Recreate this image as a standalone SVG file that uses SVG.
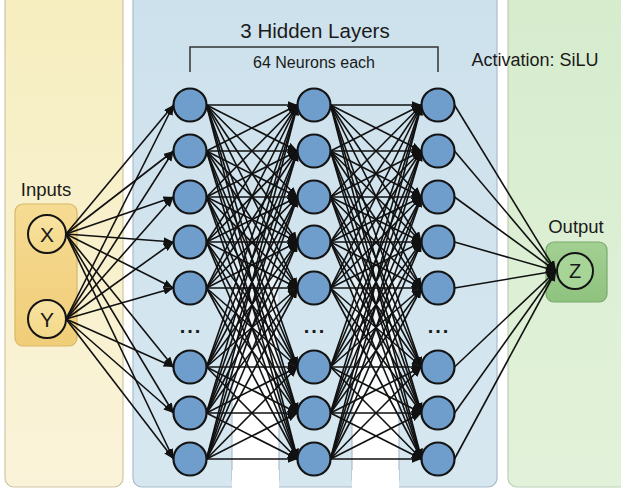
<svg xmlns="http://www.w3.org/2000/svg" width="621" height="493" viewBox="0 0 621 493">
<defs>
<style>
text{font-family:"Liberation Sans","Noto Sans",Arial,sans-serif;fill:#1a1a1a;text-anchor:middle}
.node{fill:#6f9ecd;stroke:#141414;stroke-width:2.2}
.c path{fill:none;stroke:#111;stroke-width:1.6;marker-end:url(#ah)}
.dots{font-size:20px;font-weight:bold;letter-spacing:2px}
.io{fill:url(#ioc);stroke:#141414;stroke-width:2}
</style>
<marker id="ah" viewBox="0 0 10 8" refX="10" refY="4" markerWidth="10" markerHeight="8" markerUnits="userSpaceOnUse" orient="auto"><path d="M0,0 L10,4 L0,8 z" fill="#111"/></marker>
<linearGradient id="yel" x1="0" y1="0" x2="0" y2="1"><stop offset="0" stop-color="#f6eebf"/><stop offset="1" stop-color="#faf3d9"/></linearGradient>
<linearGradient id="blu" x1="0" y1="0" x2="0" y2="1"><stop offset="0" stop-color="#cde1ec"/><stop offset="1" stop-color="#d6e7f0"/></linearGradient>
<linearGradient id="grn" x1="0" y1="0" x2="0" y2="1"><stop offset="0" stop-color="#d6eccd"/><stop offset="1" stop-color="#e2f2da"/></linearGradient>
<linearGradient id="gap" x1="0" y1="0" x2="0" y2="1"><stop offset="0" stop-color="#fff" stop-opacity="0"/><stop offset="0.4" stop-color="#fff" stop-opacity="0.65"/><stop offset="0.7" stop-color="#fff" stop-opacity="1"/><stop offset="1" stop-color="#fff" stop-opacity="1"/></linearGradient>
<linearGradient id="edge" x1="0" y1="0" x2="0" y2="1"><stop offset="0" stop-color="#a9bccb" stop-opacity="0"/><stop offset="0.5" stop-color="#a9bccb" stop-opacity="0.8"/><stop offset="1" stop-color="#a9bccb" stop-opacity="1"/></linearGradient>
<linearGradient id="inbox" x1="0" y1="0" x2="0" y2="1"><stop offset="0" stop-color="#f6db93"/><stop offset="1" stop-color="#f0cd78"/></linearGradient>
<linearGradient id="ioc" x1="0" y1="0" x2="0" y2="1"><stop offset="0" stop-color="#f8e3a4"/><stop offset="1" stop-color="#f3d886"/></linearGradient>
<linearGradient id="outbox" x1="0" y1="0" x2="0" y2="1"><stop offset="0" stop-color="#a2d093"/><stop offset="1" stop-color="#8fc27f"/></linearGradient>
</defs>

<g id="inputs-panel">
<rect x="5" y="-8" width="118" height="495" rx="9" fill="url(#yel)" stroke="#cfc7a6" stroke-width="1.2"/>
<text x="46" y="196" font-size="18.5">Inputs</text>
<rect x="15" y="204" width="62" height="142" rx="8" fill="url(#inbox)" stroke="#d6b869" stroke-width="1.2"/>
</g>

<g id="hidden-panel">
<rect x="133" y="-8" width="364" height="495" rx="9" fill="url(#blu)" stroke="#a9bccb" stroke-width="1.2"/>
<rect x="232" y="200" width="47" height="293" fill="url(#gap)"/>
<rect x="352" y="200" width="47" height="293" fill="url(#gap)"/>
<rect x="232" y="200" width="47" height="287" rx="8" fill="none" stroke="url(#edge)" stroke-width="1.2"/>
<rect x="352" y="200" width="47" height="287" rx="8" fill="none" stroke="url(#edge)" stroke-width="1.2"/>
<rect x="232" y="470" width="47" height="23" fill="#fff"/>
<rect x="352" y="470" width="47" height="23" fill="#fff"/>
<text x="315" y="38" font-size="20.5">3 Hidden Layers</text>
<path d="M190 72 V47 H438 V72" fill="none" stroke="#333" stroke-width="1.5"/>
<text x="314" y="68" font-size="16">64 Neurons each</text>
</g>

<g id="output-panel">
<rect x="508" y="-8" width="125" height="495" rx="9" fill="url(#grn)" stroke="#bccfb4" stroke-width="1.2"/>
<text x="535" y="66" font-size="18">Activation: SiLU</text>
<text x="576" y="233" font-size="18.5">Output</text>
<rect x="546" y="242" width="61" height="60" rx="8" fill="url(#outbox)" stroke="#7aa96e" stroke-width="1.2"/>
</g>

<g id="connectors" class="c">
<path d="M66 234 173.5 105"/><path d="M66 234 173.5 151"/><path d="M66 234 173.5 197"/><path d="M66 234 173.5 242"/><path d="M66 234 173.5 288"/><path d="M66 234 173.5 367"/><path d="M66 234 173.5 413"/><path d="M66 234 173.5 459"/>
<path d="M66 319 173.5 105"/><path d="M66 319 173.5 151"/><path d="M66 319 173.5 197"/><path d="M66 319 173.5 242"/><path d="M66 319 173.5 288"/><path d="M66 319 173.5 367"/><path d="M66 319 173.5 413"/><path d="M66 319 173.5 459"/>

<path d="M206.5 105 297.5 105"/><path d="M206.5 105 297.5 151"/><path d="M206.5 105 297.5 197"/><path d="M206.5 105 297.5 242"/><path d="M206.5 105 297.5 288"/><path d="M206.5 105 297.5 367"/><path d="M206.5 105 297.5 413"/><path d="M206.5 105 297.5 459"/>
<path d="M206.5 151 297.5 105"/><path d="M206.5 151 297.5 151"/><path d="M206.5 151 297.5 197"/><path d="M206.5 151 297.5 242"/><path d="M206.5 151 297.5 288"/><path d="M206.5 151 297.5 367"/><path d="M206.5 151 297.5 413"/><path d="M206.5 151 297.5 459"/>
<path d="M206.5 197 297.5 105"/><path d="M206.5 197 297.5 151"/><path d="M206.5 197 297.5 197"/><path d="M206.5 197 297.5 242"/><path d="M206.5 197 297.5 288"/><path d="M206.5 197 297.5 367"/><path d="M206.5 197 297.5 413"/><path d="M206.5 197 297.5 459"/>
<path d="M206.5 242 297.5 105"/><path d="M206.5 242 297.5 151"/><path d="M206.5 242 297.5 197"/><path d="M206.5 242 297.5 242"/><path d="M206.5 242 297.5 288"/><path d="M206.5 242 297.5 367"/><path d="M206.5 242 297.5 413"/><path d="M206.5 242 297.5 459"/>
<path d="M206.5 288 297.5 105"/><path d="M206.5 288 297.5 151"/><path d="M206.5 288 297.5 197"/><path d="M206.5 288 297.5 242"/><path d="M206.5 288 297.5 288"/><path d="M206.5 288 297.5 367"/><path d="M206.5 288 297.5 413"/><path d="M206.5 288 297.5 459"/>
<path d="M206.5 367 297.5 105"/><path d="M206.5 367 297.5 151"/><path d="M206.5 367 297.5 197"/><path d="M206.5 367 297.5 242"/><path d="M206.5 367 297.5 288"/><path d="M206.5 367 297.5 367"/><path d="M206.5 367 297.5 413"/><path d="M206.5 367 297.5 459"/>
<path d="M206.5 413 297.5 105"/><path d="M206.5 413 297.5 151"/><path d="M206.5 413 297.5 197"/><path d="M206.5 413 297.5 242"/><path d="M206.5 413 297.5 288"/><path d="M206.5 413 297.5 367"/><path d="M206.5 413 297.5 413"/><path d="M206.5 413 297.5 459"/>
<path d="M206.5 459 297.5 105"/><path d="M206.5 459 297.5 151"/><path d="M206.5 459 297.5 197"/><path d="M206.5 459 297.5 242"/><path d="M206.5 459 297.5 288"/><path d="M206.5 459 297.5 367"/><path d="M206.5 459 297.5 413"/><path d="M206.5 459 297.5 459"/>

<path d="M330.5 105 421.5 105"/><path d="M330.5 105 421.5 151"/><path d="M330.5 105 421.5 197"/><path d="M330.5 105 421.5 242"/><path d="M330.5 105 421.5 288"/><path d="M330.5 105 421.5 367"/><path d="M330.5 105 421.5 413"/><path d="M330.5 105 421.5 459"/>
<path d="M330.5 151 421.5 105"/><path d="M330.5 151 421.5 151"/><path d="M330.5 151 421.5 197"/><path d="M330.5 151 421.5 242"/><path d="M330.5 151 421.5 288"/><path d="M330.5 151 421.5 367"/><path d="M330.5 151 421.5 413"/><path d="M330.5 151 421.5 459"/>
<path d="M330.5 197 421.5 105"/><path d="M330.5 197 421.5 151"/><path d="M330.5 197 421.5 197"/><path d="M330.5 197 421.5 242"/><path d="M330.5 197 421.5 288"/><path d="M330.5 197 421.5 367"/><path d="M330.5 197 421.5 413"/><path d="M330.5 197 421.5 459"/>
<path d="M330.5 242 421.5 105"/><path d="M330.5 242 421.5 151"/><path d="M330.5 242 421.5 197"/><path d="M330.5 242 421.5 242"/><path d="M330.5 242 421.5 288"/><path d="M330.5 242 421.5 367"/><path d="M330.5 242 421.5 413"/><path d="M330.5 242 421.5 459"/>
<path d="M330.5 288 421.5 105"/><path d="M330.5 288 421.5 151"/><path d="M330.5 288 421.5 197"/><path d="M330.5 288 421.5 242"/><path d="M330.5 288 421.5 288"/><path d="M330.5 288 421.5 367"/><path d="M330.5 288 421.5 413"/><path d="M330.5 288 421.5 459"/>
<path d="M330.5 367 421.5 105"/><path d="M330.5 367 421.5 151"/><path d="M330.5 367 421.5 197"/><path d="M330.5 367 421.5 242"/><path d="M330.5 367 421.5 288"/><path d="M330.5 367 421.5 367"/><path d="M330.5 367 421.5 413"/><path d="M330.5 367 421.5 459"/>
<path d="M330.5 413 421.5 105"/><path d="M330.5 413 421.5 151"/><path d="M330.5 413 421.5 197"/><path d="M330.5 413 421.5 242"/><path d="M330.5 413 421.5 288"/><path d="M330.5 413 421.5 367"/><path d="M330.5 413 421.5 413"/><path d="M330.5 413 421.5 459"/>
<path d="M330.5 459 421.5 105"/><path d="M330.5 459 421.5 151"/><path d="M330.5 459 421.5 197"/><path d="M330.5 459 421.5 242"/><path d="M330.5 459 421.5 288"/><path d="M330.5 459 421.5 367"/><path d="M330.5 459 421.5 413"/><path d="M330.5 459 421.5 459"/>

<path d="M454.5 105 556 271"/><path d="M454.5 151 556 271"/><path d="M454.5 197 556 271"/><path d="M454.5 242 556 271"/><path d="M454.5 288 556 271"/><path d="M454.5 367 556 271"/><path d="M454.5 413 556 271"/><path d="M454.5 459 556 271"/>
</g>

<g id="in-x"><circle class="io" cx="47" cy="234" r="19"/><text x="47" y="241.5" font-size="21">X</text></g>
<g id="in-y"><circle class="io" cx="47" cy="319" r="19"/><text x="47" y="326.5" font-size="21">Y</text></g>

<g id="h1-1"><circle class="node" cx="190" cy="105" r="16.5"/></g>
<g id="h1-2"><circle class="node" cx="190" cy="151" r="16.5"/></g>
<g id="h1-3"><circle class="node" cx="190" cy="197" r="16.5"/></g>
<g id="h1-4"><circle class="node" cx="190" cy="242" r="16.5"/></g>
<g id="h1-5"><circle class="node" cx="190" cy="288" r="16.5"/></g>
<g id="h1-dots"><text class="dots" x="191" y="333">...</text></g>
<g id="h1-6"><circle class="node" cx="190" cy="367" r="16.5"/></g>
<g id="h1-7"><circle class="node" cx="190" cy="413" r="16.5"/></g>
<g id="h1-8"><circle class="node" cx="190" cy="459" r="16.5"/></g>

<g id="h2-1"><circle class="node" cx="314" cy="105" r="16.5"/></g>
<g id="h2-2"><circle class="node" cx="314" cy="151" r="16.5"/></g>
<g id="h2-3"><circle class="node" cx="314" cy="197" r="16.5"/></g>
<g id="h2-4"><circle class="node" cx="314" cy="242" r="16.5"/></g>
<g id="h2-5"><circle class="node" cx="314" cy="288" r="16.5"/></g>
<g id="h2-dots"><text class="dots" x="315" y="333">...</text></g>
<g id="h2-6"><circle class="node" cx="314" cy="367" r="16.5"/></g>
<g id="h2-7"><circle class="node" cx="314" cy="413" r="16.5"/></g>
<g id="h2-8"><circle class="node" cx="314" cy="459" r="16.5"/></g>

<g id="h3-1"><circle class="node" cx="438" cy="105" r="16.5"/></g>
<g id="h3-2"><circle class="node" cx="438" cy="151" r="16.5"/></g>
<g id="h3-3"><circle class="node" cx="438" cy="197" r="16.5"/></g>
<g id="h3-4"><circle class="node" cx="438" cy="242" r="16.5"/></g>
<g id="h3-5"><circle class="node" cx="438" cy="288" r="16.5"/></g>
<g id="h3-dots"><text class="dots" x="439" y="333">...</text></g>
<g id="h3-6"><circle class="node" cx="438" cy="367" r="16.5"/></g>
<g id="h3-7"><circle class="node" cx="438" cy="413" r="16.5"/></g>
<g id="h3-8"><circle class="node" cx="438" cy="459" r="16.5"/></g>

<g id="out-z"><circle cx="575" cy="271" r="18" fill="#a6d597" stroke="#141414" stroke-width="2"/><text x="575" y="278" font-size="20">Z</text></g>
</svg>
